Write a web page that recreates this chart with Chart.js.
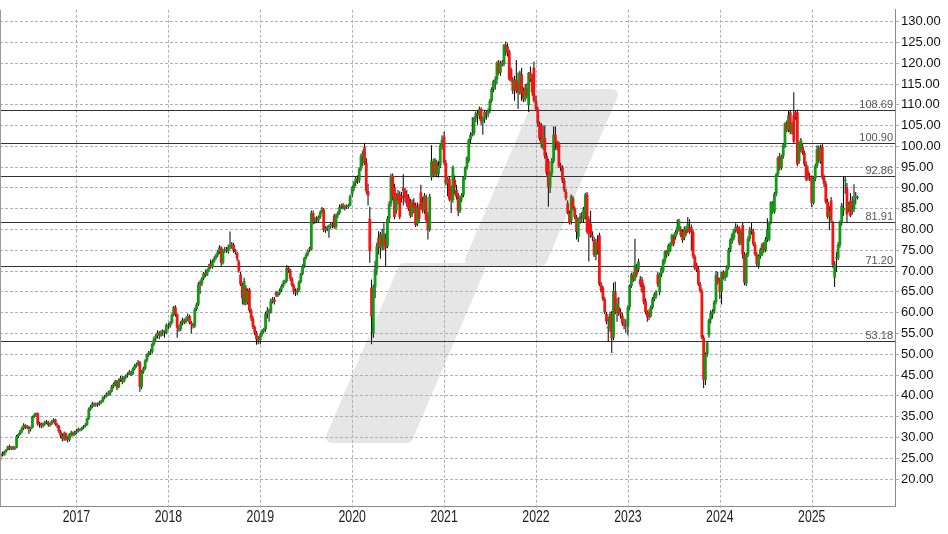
<!DOCTYPE html>
<html><head><meta charset="utf-8">
<script src="https://cdn.jsdelivr.net/npm/chart.js@4.4.1/dist/chart.umd.min.js"></script>
<style>html,body{margin:0;padding:0;background:#fff;}#wrap{width:948px;height:534px;}</style>
</head><body><div id="wrap"><canvas id="c" width="948" height="534"></canvas></div>
<script>
// Weekly candles [open, high, low, close], grouped by year
const candles2016 = [
[25.6,26.4,24.4,26.0],[26.0,26.6,25.4,25.8],[25.8,26.8,25.6,26.6],[26.6,27.2,26.2,27.0],[27.0,28.0,26.8,27.8],
[27.9,28.3,27.0,27.3],[27.3,27.9,26.9,27.7],[27.7,28.0,27.0,27.3],[27.3,27.9,27.0,27.6],[27.6,30.6,27.4,30.3],
[30.3,31.0,29.8,30.8],[30.8,31.8,30.5,31.4],[31.4,32.6,31.0,32.2],[32.2,33.4,31.8,33.0],[33.0,33.2,32.0,32.4],
[32.4,33.0,32.0,32.6],[32.6,32.8,30.8,32.0],[32.0,32.6,31.4,32.3],[32.3,35.2,32.2,35.0],[35.0,35.8,34.6,35.4],
[35.4,36.0,35.0,35.8],[35.8,36.0,32.8,33.2],[33.2,33.8,32.4,33.4],[33.4,33.6,32.2,32.8],[32.8,33.6,32.4,33.2],
[33.2,34.0,32.8,33.6],[33.6,34.2,33.2,33.8],[33.8,34.0,32.6,33.0],[33.0,33.6,32.6,33.2],[33.2,34.2,33.0,33.9],
[33.9,34.6,33.6,34.3],[34.3,34.5,32.8,33.2],[33.2,33.5,32.2,32.8],[32.8,33.0,31.0,31.4],[31.4,31.8,29.8,30.4],
[30.4,31.0,29.0,29.6],[29.6,31.4,29.2,31.0],[31.0,31.2,29.2,29.8],[29.8,30.2,28.8,29.4],[29.4,31.0,29.0,30.8],
[30.8,31.6,30.2,31.2],[31.2,31.4,30.2,30.6],[30.6,31.6,30.4,31.2]
];
const candles2017 = [
[31.2,32.0,30.8,31.6],[31.6,32.4,31.2,32.0],[32.0,32.2,31.4,31.8],[31.8,32.6,31.6,32.3],[32.3,33.0,32.0,32.7],
[32.7,33.4,32.4,33.0],[33.0,34.8,32.8,34.5],[34.5,37.2,34.2,36.8],[36.8,37.8,36.4,37.4],[37.4,38.6,37.0,38.1],
[38.1,38.4,37.4,37.8],[37.8,38.4,37.4,38.0],[38.0,38.4,37.4,37.9],[37.9,38.8,37.6,38.4],[38.4,39.0,38.0,38.6],
[38.6,39.9,38.4,39.6],[39.6,40.2,39.2,39.8],[39.8,40.8,39.6,40.5],[40.5,41.2,40.0,40.3],[40.3,41.4,40.0,41.0],
[41.0,42.6,40.8,42.2],[42.2,43.2,41.8,42.8],[42.8,43.8,42.4,43.5],[43.5,43.8,41.4,42.0],[42.0,44.2,41.8,43.8],
[43.8,44.8,43.4,44.3],[44.3,44.8,42.8,43.4],[43.4,44.8,43.2,44.4],[44.4,45.2,44.0,44.9],[44.9,45.6,44.4,45.2],
[45.2,46.2,45.0,45.8],[45.8,46.0,44.8,45.3],[45.3,46.8,45.0,46.5],[46.5,47.6,46.2,47.2],[47.2,48.0,46.8,47.6],
[47.6,48.6,47.2,48.1],[48.1,48.4,41.0,42.2],[42.2,46.2,41.6,45.8],[45.8,47.0,45.4,46.6],[46.6,48.8,46.2,48.5],
[48.5,50.2,48.0,49.8],[49.8,50.8,49.4,50.4],[50.4,51.2,49.8,50.6],[50.6,52.8,50.2,52.5],[52.5,54.2,52.0,53.8],
[53.8,54.8,53.2,54.4],[54.4,55.8,53.8,55.2],[55.2,55.6,53.6,54.6],[54.6,55.8,54.2,55.3],[55.3,56.0,54.4,55.5],
[55.5,55.8,54.0,55.2],[55.2,57.4,54.8,57.0]
];
const candles2018 = [
[57.0,57.6,56.0,56.8],[56.8,58.0,56.4,57.6],[57.6,59.8,57.2,59.5],[59.5,61.6,59.2,61.3],[61.3,61.8,59.0,59.6],
[59.6,59.8,54.0,56.4],[56.4,57.0,55.4,56.0],[56.0,58.0,55.6,57.5],[57.5,58.8,57.0,58.3],[58.3,58.6,57.2,57.8],
[57.8,59.0,57.4,58.4],[58.4,59.8,58.0,59.2],[59.2,59.5,57.2,57.6],[57.6,58.0,55.0,57.2],[57.2,57.6,56.2,56.8],
[56.8,61.2,56.4,60.8],[60.8,62.4,60.4,62.0],[62.0,67.4,61.6,66.8],[67.4,67.8,64.5,66.9],[66.9,68.6,66.4,68.2],
[68.2,69.8,67.8,69.5],[69.5,70.4,68.6,69.0],[69.0,70.6,68.8,70.2],[70.2,71.8,69.8,71.3],[71.8,72.8,70.6,71.0],
[71.0,72.8,70.6,72.4],[72.4,73.6,72.0,73.1],[73.1,74.2,72.8,73.8],[73.8,75.0,73.4,74.6],[74.6,76.2,74.2,75.7],
[75.7,76.0,71.2,72.0],[72.0,75.4,71.6,75.0],[75.0,75.8,74.4,75.3],[75.3,75.8,74.4,74.9],[74.7,76.4,74.2,75.8],
[75.8,79.5,75.2,76.3],[76.3,77.0,75.4,76.5],[76.3,76.8,74.4,75.0],[75.0,75.4,74.0,74.6],[74.3,74.6,72.4,73.0],
[72.3,72.8,69.6,70.0],[69.2,69.8,66.4,66.8],[66.8,67.2,62.0,63.5],[62.1,68.4,61.8,67.6],[66.0,66.6,61.8,62.4],
[62.4,65.8,62.0,65.3],[65.6,66.0,60.0,60.5],[60.5,61.0,58.0,58.6],[58.6,59.2,56.0,56.6],[56.6,57.0,54.6,55.2],
[55.2,55.6,52.3,53.6],[53.6,54.4,52.4,53.4]
];
const candles2019 = [
[53.4,55.2,52.4,54.8],[54.8,56.0,54.2,55.6],[55.6,56.4,55.0,56.0],[56.0,60.2,55.4,59.8],[59.8,61.3,58.6,60.5],
[60.5,61.0,57.8,60.2],[60.2,63.4,59.8,62.8],[62.8,63.8,62.2,63.2],[63.2,63.8,62.0,62.6],[64.9,65.2,63.8,64.2],
[64.2,65.0,63.8,64.6],[64.6,65.8,64.2,65.4],[65.4,66.8,65.0,66.4],[66.4,67.8,66.0,67.2],[67.2,68.0,66.8,67.6],
[67.6,71.5,67.2,70.8],[70.8,71.2,69.6,70.2],[70.2,70.6,67.6,68.2],[68.2,68.6,66.2,66.6],[66.6,67.0,64.4,65.2],
[65.2,65.8,64.0,64.8],[64.8,66.0,64.2,65.4],[65.4,67.8,65.0,67.4],[67.4,69.6,67.0,69.3],[69.3,71.6,69.0,71.2],
[71.2,73.4,70.8,73.2],[73.2,74.4,72.8,74.0],[74.0,75.2,73.6,74.8],[75.5,75.8,74.6,75.2],[75.2,84.6,75.0,84.0],
[84.0,84.6,81.2,82.0],[82.0,83.0,81.4,82.6],[82.6,83.2,81.6,82.2],[82.2,83.4,81.8,83.0],[83.0,84.6,82.6,84.2],
[84.2,85.4,83.8,84.8],[84.8,85.2,79.4,79.8],[79.8,80.8,79.2,80.4],[80.4,81.0,79.6,80.6],[80.6,81.2,78.0,80.9],
[80.9,81.6,80.2,81.0],[81.0,81.8,80.4,81.2],[83.4,83.8,80.2,80.6],[80.6,83.8,80.2,83.4],[83.4,84.4,82.8,84.0],
[84.0,86.0,83.6,85.4],[85.4,86.2,85.0,85.7],[85.8,86.4,84.8,85.2],[85.2,86.0,84.6,85.6],[85.6,86.0,85.0,85.4],
[85.4,86.2,85.0,85.8],[85.8,88.4,85.6,88.0]
];
const candles2020 = [
[88.5,90.5,87.8,90.0],[90.0,91.6,89.2,91.2],[91.2,92.8,90.4,92.3],[92.3,93.0,91.0,91.8],[91.8,95.0,91.2,94.6],
[94.6,98.2,94.0,97.6],[97.6,99.0,95.2,98.4],[99.8,100.8,95.6,96.0],[96.0,97.2,88.6,89.3],[89.3,91.0,85.8,88.1],
[82.6,85.4,72.0,74.8],[66.0,68.0,52.4,59.1],[55.0,66.8,54.0,66.1],[66.1,72.5,63.5,70.5],[70.5,76.8,69.0,76.0],
[78.0,79.6,74.0,75.6],[75.6,79.4,73.0,78.8],[78.8,80.2,75.0,76.2],[76.2,81.5,75.0,79.1],[77.9,79.0,71.0,75.6],
[76.0,83.2,75.5,82.6],[82.6,86.8,81.8,86.2],[86.2,93.4,85.5,92.9],[92.9,93.5,87.0,87.8],[90.1,91.0,82.5,83.0],
[84.5,88.8,83.8,88.2],[88.5,89.5,86.0,87.0],[88.5,89.2,82.5,83.0],[88.1,89.0,86.5,87.4],[90.1,93.3,85.8,89.3],
[89.3,90.0,86.5,87.6],[88.5,89.5,85.5,86.2],[87.8,88.5,84.5,85.0],[86.6,87.4,82.8,83.4],[83.8,87.2,83.0,86.6],
[86.6,87.5,84.0,85.2],[85.8,86.4,80.6,81.1],[81.4,86.5,80.8,85.4],[85.4,86.2,81.8,82.6],[88.9,90.8,84.8,85.4],
[86.6,87.8,84.0,84.6],[84.6,88.8,83.8,88.1],[87.8,88.4,81.8,82.3],[83.4,84.2,77.6,79.9],[80.0,88.6,79.5,88.0],
[92.5,100.3,91.8,96.4],[96.4,97.0,92.6,93.3],[93.3,97.2,92.8,96.8],[96.2,96.8,92.6,93.3],[93.3,96.5,92.5,95.4],
[95.4,100.6,94.8,100.3],[100.3,102.7,99.2,101.6]
];
const candles2021 = [
[102.3,103.5,95.5,96.0],[96.0,96.8,90.6,91.0],[91.0,92.6,88.0,92.2],[92.2,92.8,86.8,87.2],[89.9,90.6,84.0,87.1],
[87.1,95.4,86.5,95.0],[92.0,93.0,88.4,90.3],[89.5,90.8,87.2,87.9],[88.3,88.8,83.2,84.4],[84.4,88.0,84.0,87.5],
[87.5,88.8,86.6,88.3],[88.3,92.8,87.8,92.6],[92.6,95.2,92.0,95.0],[95.0,97.6,94.4,97.3],[96.5,101.8,96.0,101.6],
[101.6,103.4,100.8,102.8],[102.8,107.0,102.4,103.2],[103.2,107.2,102.6,106.7],[106.7,108.4,105.8,107.9],[107.9,108.6,105.2,107.5],
[107.5,109.6,106.5,109.0],[109.0,109.4,105.2,106.0],[106.0,107.2,102.8,106.7],[106.7,108.8,105.6,108.3],[108.3,108.6,106.4,107.7],
[107.7,109.2,107.0,108.7],[108.7,111.4,108.0,111.0],[111.0,114.2,110.5,113.8],[113.8,116.0,113.0,115.7],[115.5,116.8,113.6,116.1],
[116.1,120.5,115.0,120.1],[120.1,120.8,117.2,117.7],[117.7,120.6,117.0,120.1],[120.1,120.8,119.2,119.8],[119.8,124.6,119.3,124.4],
[124.4,125.2,121.8,124.0],[124.0,124.8,121.6,122.4],[122.8,123.2,115.8,116.1],[118.5,119.0,115.4,116.1],[116.1,116.6,112.6,113.4],
[113.4,117.0,111.0,116.0],[116.0,120.8,112.8,113.4],[115.3,117.8,109.0,113.0],[113.0,118.2,112.4,117.7],[117.3,118.9,111.0,112.6],
[113.4,114.2,110.6,111.4],[111.4,115.0,110.8,114.0],[114.0,115.2,111.6,112.2],[109.9,117.9,108.3,117.7],[117.7,119.2,115.5,116.2],
[116.2,117.4,112.2,113.0],[118.9,120.4,110.6,111.0]
];
const candles2022 = [
[111.0,112.2,108.6,109.0],[109.0,109.6,104.8,105.5],[105.5,106.0,101.4,101.9],[105.2,105.6,99.7,100.5],[100.0,105.0,99.2,102.0],
[102.0,105.0,97.0,97.7],[97.7,98.5,93.0,93.6],[96.5,97.0,85.5,90.3],[90.3,94.0,88.8,93.5],[93.5,97.2,92.8,96.5],
[96.5,104.8,96.0,102.8],[102.8,104.8,99.2,100.8],[100.8,101.4,99.0,99.7],[100.8,101.2,94.8,95.3],[95.3,96.0,94.0,95.0],
[95.0,95.4,91.2,91.8],[91.8,92.4,89.0,89.5],[89.1,89.8,87.0,87.5],[86.3,87.0,83.6,84.0],[84.0,84.6,81.2,81.6],
[82.1,88.4,81.2,88.0],[87.5,88.0,84.5,85.0],[85.0,85.6,82.4,83.0],[83.0,83.5,77.6,79.4],[78.2,82.8,77.0,82.5],
[82.5,84.0,81.4,83.2],[83.2,84.2,81.8,82.6],[82.5,85.4,81.6,84.9],[83.0,88.8,82.4,88.4],[88.4,89.0,79.0,79.4],
[82.5,83.2,72.3,79.0],[81.4,84.5,78.0,78.6],[78.6,79.6,77.2,78.2],[77.4,78.2,73.4,73.9],[73.9,77.8,72.6,77.0],
[77.0,78.6,74.0,75.2],[78.6,79.2,66.4,66.8],[66.8,67.4,64.8,65.2],[66.0,66.4,62.8,63.3],[63.3,63.8,59.6,60.1],
[59.7,60.2,57.2,57.8],[56.6,59.0,53.2,56.2],[56.2,60.2,55.4,59.7],[59.7,60.4,50.3,53.8],[54.0,67.2,53.4,65.2],
[64.9,67.5,59.6,60.1],[60.5,63.6,57.8,62.1],[61.3,63.8,59.2,60.1],[60.1,61.0,58.6,59.6],[59.3,60.0,56.8,57.4],
[57.4,58.6,56.0,57.0],[57.0,58.4,55.2,56.8]
];
const candles2023 = [
[56.8,61.8,54.6,61.3],[61.3,66.8,60.6,66.4],[66.4,69.6,66.0,69.2],[69.2,69.8,67.4,68.0],[68.0,77.8,67.6,71.5],
[70.7,71.8,68.6,69.2],[70.4,73.0,69.8,72.3],[68.0,68.8,66.2,66.8],[68.0,68.6,64.8,65.2],[66.4,67.0,62.0,62.5],
[62.9,63.4,59.6,60.1],[60.1,60.6,57.8,58.9],[60.1,60.8,58.2,59.0],[59.2,61.8,58.8,61.3],[61.3,63.8,60.8,63.3],
[63.3,64.9,62.8,64.5],[64.1,65.4,63.4,64.9],[69.2,69.8,66.2,66.8],[64.9,69.6,64.2,69.2],[69.2,71.0,68.6,70.7],
[70.0,73.0,69.6,72.7],[72.3,75.0,71.8,74.7],[74.7,75.0,73.2,74.0],[74.0,76.6,73.6,76.2],[75.1,77.0,74.6,76.6],
[76.6,79.0,76.0,78.6],[78.2,78.8,76.0,76.6],[78.2,79.8,77.6,79.4],[79.4,82.5,78.8,80.6],[80.2,82.6,79.6,82.2],
[80.2,80.8,78.2,78.6],[79.4,80.0,76.8,77.4],[78.0,80.8,77.4,80.2],[80.0,80.8,78.4,79.0],[79.8,83.0,79.2,81.4],
[80.6,82.5,79.0,79.4],[80.6,81.2,75.0,79.4],[79.4,80.0,73.0,73.5],[73.5,74.0,70.2,70.7],[71.5,72.0,69.8,70.4],
[70.4,71.0,66.4,66.8],[66.8,67.4,64.8,65.2],[65.2,65.8,53.6,54.0],[54.0,54.6,41.8,43.8],[43.8,50.4,42.6,50.0],
[50.0,53.2,49.4,52.8],[54.6,58.6,54.0,58.3],[58.3,60.6,57.4,59.9],[59.5,60.8,58.6,60.3],[60.3,63.0,59.8,62.6],
[62.6,70.0,62.0,69.0],[68.5,69.8,66.8,67.3]
];
const candles2024 = [
[67.8,68.4,63.3,65.0],[65.0,69.8,62.0,69.7],[69.7,70.2,68.0,68.5],[68.5,70.0,67.6,69.7],[68.9,71.4,68.4,70.9],
[70.9,75.6,70.4,75.2],[75.2,77.9,74.6,77.6],[77.2,79.2,76.6,78.8],[78.0,80.2,77.4,79.9],[79.9,81.5,79.2,80.7],
[80.7,81.2,79.0,79.5],[80.3,80.8,76.2,76.8],[76.8,80.0,76.2,79.5],[81.1,81.6,73.0,74.0],[74.0,74.6,66.6,67.2],
[67.0,74.4,66.4,74.0],[74.0,78.4,73.4,77.8],[77.8,80.6,77.2,80.0],[80.0,81.6,78.8,79.5],[79.5,80.2,76.0,76.4],
[76.4,77.0,73.6,74.0],[74.0,74.6,71.2,71.7],[71.3,74.0,70.6,73.6],[73.6,75.6,73.0,75.2],[74.0,76.8,73.6,76.4],
[76.4,77.0,74.4,75.0],[75.0,78.2,74.6,77.6],[77.6,82.7,77.0,79.9],[77.6,82.0,77.2,81.8],[81.8,86.8,81.2,86.6],
[84.3,86.8,83.8,86.2],[84.3,89.0,83.8,88.6],[88.6,93.6,88.0,93.3],[93.3,97.6,92.8,97.2],[97.6,98.4,94.2,94.9],
[94.9,98.0,94.4,97.6],[97.6,100.8,97.0,100.4],[100.0,105.8,99.6,105.5],[105.5,106.2,103.4,103.9],[103.9,108.6,103.4,107.5],
[108.2,108.8,103.0,103.5],[103.5,106.0,102.8,105.4],[107.5,113.0,100.8,101.2],[108.2,108.6,106.4,107.1],[108.2,108.8,95.2,95.7],
[96.4,101.2,95.8,100.8],[99.2,102.0,98.6,101.6],[100.0,100.6,98.0,98.4],[98.4,99.0,95.2,95.7],[95.7,96.4,91.6,92.1],
[94.1,95.2,91.8,92.5],[92.5,93.6,91.6,92.0]
];
const candles2025 = [
[92.5,93.0,85.4,86.4],[86.4,92.6,86.0,92.2],[92.2,95.8,91.6,95.3],[95.3,100.2,94.8,99.4],[99.4,100.2,96.0,96.6],
[96.4,100.4,95.8,99.8],[100.0,100.6,92.0,92.5],[92.5,93.2,90.2,91.0],[91.0,91.7,86.2,86.6],[86.6,87.4,82.6,83.1],
[83.1,85.6,79.8,84.5],[87.0,87.8,81.8,82.3],[81.7,82.2,70.8,71.5],[68.4,72.4,66.2,71.6],[73.1,74.6,69.8,73.4],
[73.1,77.0,72.6,76.4],[76.2,82.2,75.6,81.7],[81.7,86.4,81.0,85.8],[84.6,92.8,83.3,85.2],[91.6,92.8,88.6,92.0],
[90.0,91.2,81.7,83.7],[84.9,86.6,84.2,86.1],[86.9,88.8,83.0,83.3],[84.3,88.0,83.6,84.9],[84.9,90.9,84.2,87.2],
[87.6,89.0,86.0,88.0],[87.6,88.2,87.2,87.9]
];

const candleYears = [2016, 2017, 2018, 2019, 2020, 2021, 2022, 2023, 2024, 2025];
const candleSets  = [candles2016, candles2017, candles2018, candles2019, candles2020,
                     candles2021, candles2022, candles2023, candles2024, candles2025];
const yearTicks  = [2017, 2018, 2019, 2020, 2021, 2022, 2023, 2024, 2025];
const priceTicks = [20,25,30,35,40,45,50,55,60,65,70,75,80,85,90,95,100,105,110,115,120,125,130];
const levels      = [108.69, 100.90, 92.86, 81.91, 71.20, 53.18];
const levelLabels = ['108.69', '100.90', '92.86', '81.91', '71.20', '53.18'];

const WEEKS = 52.18;
const GREEN = '#139913', RED = '#f51414';
const GRID = '#b0b0b0';
const FONT = '"Liberation Sans", Arial, sans-serif';

const wickData = [], bodyData = [], bodyColors = [];
candleYears.forEach((yr, i) => {
  const set = candleSets[i];
  const start = (yr === 2016) ? WEEKS - set.length : 0;  // first year ends right before Jan
  set.forEach((c, k) => {
    const x = yr + (start + k) / WEEKS;
    wickData.push({x: x, y: [c[2], c[1]]});
    bodyData.push({x: x, y: [c[0], c[3]]});
    bodyColors.push(c[3] >= c[0] ? GREEN : RED);
  });
});

const decor = {
  id: 'decor',
  beforeDraw(chart) {
    const ctx = chart.ctx;
    ctx.save();
    ctx.fillStyle = '#e6e6e6';
    ctx.strokeStyle = '#e6e6e6';
    ctx.lineJoin = 'round';
    ctx.lineWidth = 12;
    const shapes = [
      [[542,95],[612,95],[541,260],[471,260]],
      [[404,269],[479,269],[407,437],[332,437]]
    ];
    shapes.forEach(p => {
      ctx.beginPath();
      ctx.moveTo(p[0][0], p[0][1]);
      for (let j = 1; j < p.length; j++) ctx.lineTo(p[j][0], p[j][1]);
      ctx.closePath();
      ctx.fill(); ctx.stroke();
    });
    ctx.restore();
  },
  beforeDatasetsDraw(chart) {
    const {ctx, chartArea, scales} = chart;
    ctx.save();
    // vertical year grid lines (with small ticks under the axis)
    ctx.strokeStyle = GRID;
    ctx.lineWidth = 1;
    ctx.setLineDash([3, 2]);
    yearTicks.forEach(yr => {
      const x = Math.round(scales.x.getPixelForValue(yr)) + 0.5;
      ctx.beginPath();
      ctx.moveTo(x, chartArea.top);
      ctx.lineTo(x, chartArea.bottom + 4);
      ctx.stroke();
    });
    ctx.setLineDash([]);
    levels.forEach((v, i) => {
      const y = Math.round(scales.y.getPixelForValue(v)) + 0.5;
      ctx.strokeStyle = '#333';
      ctx.lineWidth = 1;
      ctx.beginPath();
      ctx.moveTo(chartArea.left, y);
      ctx.lineTo(chartArea.right, y);
      ctx.stroke();
      ctx.fillStyle = '#555';
      ctx.font = '11px ' + FONT;
      ctx.textAlign = 'right';
      ctx.textBaseline = 'alphabetic';
      ctx.fillText(levelLabels[i], chartArea.right - 2, y - 3);
    });
    ctx.restore();
  },
  afterDraw(chart) {
    const {ctx, chartArea, scales} = chart;
    ctx.save();
    ctx.strokeStyle = '#999';
    ctx.lineWidth = 1;
    ctx.beginPath();
    ctx.moveTo(chartArea.left + 0.5, chartArea.top);
    ctx.lineTo(chartArea.left + 0.5, chartArea.bottom);
    ctx.stroke();
    // year labels, drawn slightly condensed like the original
    ctx.fillStyle = '#222';
    ctx.font = '16px ' + FONT;
    ctx.textAlign = 'center';
    ctx.textBaseline = 'middle';
    yearTicks.forEach(yr => {
      const x = scales.x.getPixelForValue(yr);
      ctx.save();
      ctx.translate(x, chartArea.bottom + 12);
      ctx.scale(0.77, 1);
      ctx.fillText(String(yr), 0, 0);
      ctx.restore();
    });
    ctx.restore();
  }
};

new Chart(document.getElementById('c'), {
  type: 'bar',
  data: {
    datasets: [
      {data: bodyData, backgroundColor: bodyColors, barThickness: 2.8, grouped: false, order: 0,
       minBarLength: 1, borderWidth: 0, inflateAmount: 0},
      {data: wickData, backgroundColor: '#000', barThickness: 1, grouped: false, order: 1,
       borderWidth: 0, inflateAmount: 0}
    ]
  },
  options: {
    responsive: false,
    animation: false,
    devicePixelRatio: 1,
    layout: {padding: 0},
    plugins: {legend: {display: false}, tooltip: {enabled: false}},
    scales: {
      x: {
        type: 'linear', min: 2016.168, max: 2025.906, offset: false,
        afterBuildTicks: s => { s.ticks = yearTicks.map(v => ({value: v})); },
        afterFit: s => { s.height = 28; },
        ticks: {display: false},
        grid: {display: false, offset: false},
        border: {display: true, color: '#8a8a8a'}
      },
      y: {
        position: 'right', min: 13.51, max: 132.85,
        afterBuildTicks: s => { s.ticks = priceTicks.map(v => ({value: v})); },
        afterFit: s => { s.width = 53; },
        ticks: {callback: v => v.toFixed(2), autoSkip: false, padding: 2, color: '#111',
                font: {family: FONT, size: 13}},
        grid: {offset: false, color: GRID, lineWidth: 1, tickLength: 4, tickColor: GRID, tickBorderDash: [3, 2]},
        border: {display: true, color: '#8a8a8a', dash: [3, 2]}
      }
    }
  },
  plugins: [decor]
});
</script>
</body></html>
